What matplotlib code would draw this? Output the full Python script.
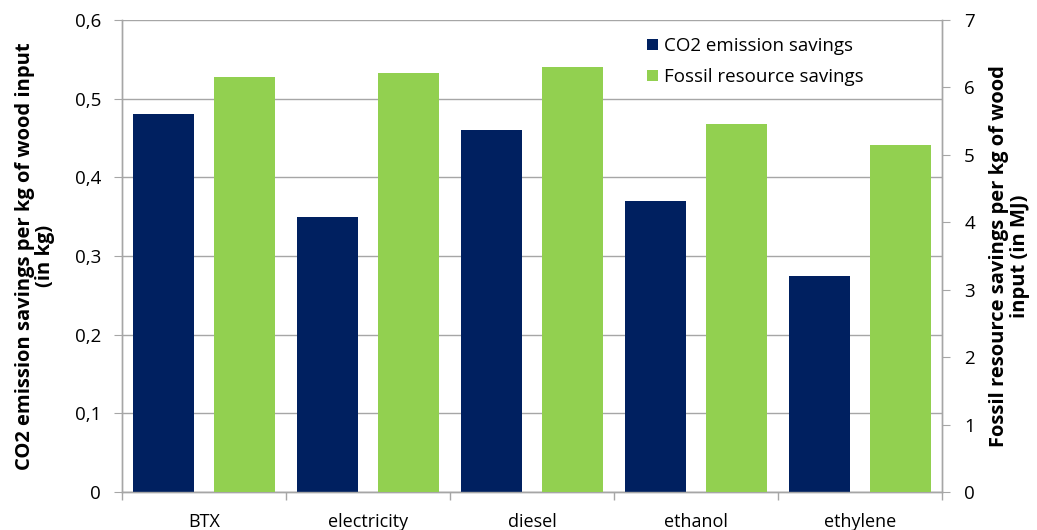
import numpy as np
import matplotlib
matplotlib.use("Agg")
import matplotlib.pyplot as plt
from matplotlib.ticker import FuncFormatter, FixedLocator

# --- datos ---
categorias = ["BTX", "electricity", "diesel", "ethanol", "ethylene"]
co2_ahorro = [0.48, 0.35, 0.46, 0.37, 0.275]
fosil_ahorro = [6.16, 6.21, 6.30, 5.46, 5.14]

plt.rcParams['font.family'] = ['Open Sans', 'DejaVu Sans']

fig = plt.figure(figsize=(10.37, 5.30), dpi=100)
ax = fig.add_axes([122/1037, 1 - 492/530, 820/1037, 472/530])
ax2 = ax.twinx()

x = np.arange(len(categorias))
ancho = 0.372
desp = 0.247
gris = '#A6A6A6'

ax.bar(x - desp, co2_ahorro, ancho, color='#002060', label='CO2 emission savings', zorder=3)
ax2.bar(x + desp, fosil_ahorro, ancho, color='#92D050', label='Fossil resource savings', zorder=3)

ax.set_xlim(-0.5, len(categorias) - 0.5)
ax.set_ylim(0, 0.6)
ax2.set_ylim(0, 7)
ax.set_yticks(np.arange(0, 0.61, 0.1))
ax2.set_yticks(range(0, 8))

fmt = FuncFormatter(lambda v, p: '0' if abs(v) < 1e-9 else f'{v:.1f}'.replace('.', ','))
ax.yaxis.set_major_formatter(fmt)

ax.set_xticks(x)
ax.set_xticklabels(categorias)
ax.xaxis.set_minor_locator(FixedLocator(np.arange(-0.5, len(categorias), 1.0)))
ax.tick_params(axis='x', which='major', length=0, pad=15, labelsize=13, colors='black')
ax.tick_params(axis='x', which='minor', length=6, color=gris, width=1)
ax.tick_params(axis='y', length=6, color=gris, labelsize=13.5, pad=9)
ax2.tick_params(axis='y', length=6, color=gris, labelsize=13.5, pad=10)

ax.yaxis.grid(True, color=gris, linewidth=1)
ax.set_axisbelow(True)
for a in (ax, ax2):
    a.spines['top'].set_visible(False)
    for s in ('left', 'right', 'bottom'):
        a.spines[s].set_color(gris)
        a.spines[s].set_linewidth(1)

ax.set_ylabel('CO2 emission savings per kg of wood input\n(in kg)', fontsize=14.5, fontweight='bold',
              labelpad=14, linespacing=1.05)
ax2.set_ylabel('Fossil resource savings per kg of wood\ninput (in MJ)', fontsize=14.5, fontweight='bold',
               rotation=90, labelpad=10, linespacing=1.05)

h1, l1 = ax.get_legend_handles_labels()
h2, l2 = ax2.get_legend_handles_labels()
ax2.legend(h1 + h2, l1 + l2, loc='upper left', bbox_to_anchor=(0.62, 1.0), frameon=False,
           fontsize=13.5, handlelength=0.55, handleheight=0.55, handletextpad=0.35, labelspacing=0.7)

fig.savefig('out.png', dpi=100)
